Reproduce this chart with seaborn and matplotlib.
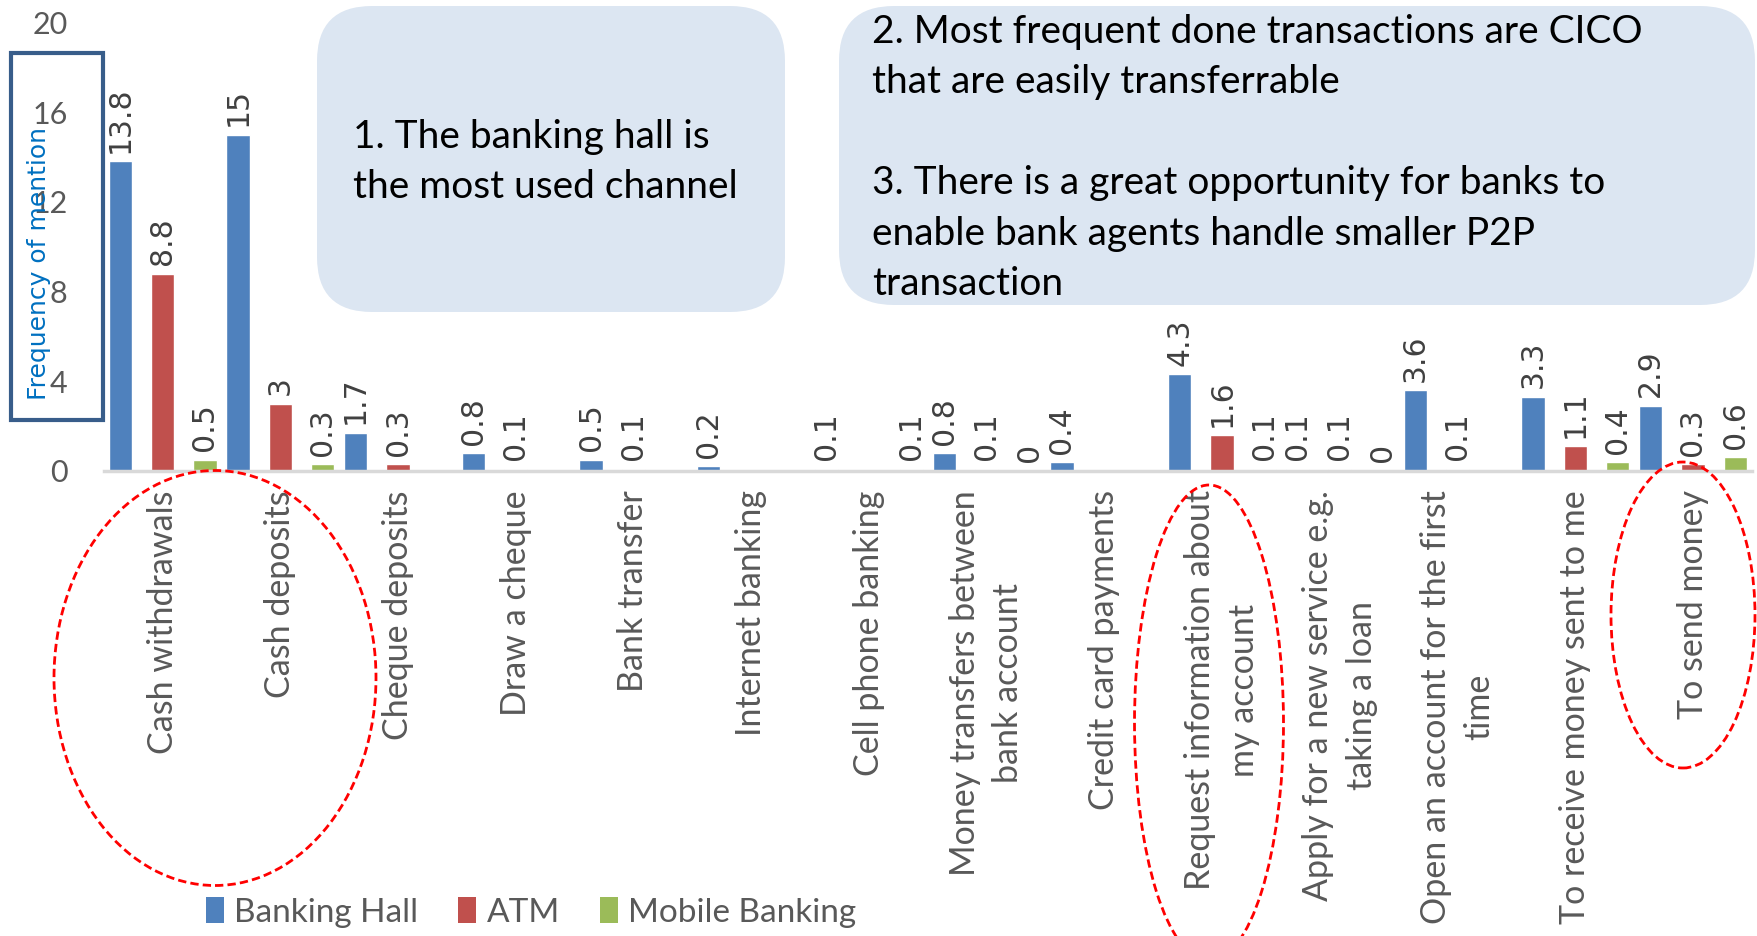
import numpy as np
import pandas as pd
import seaborn as sns
import matplotlib.pyplot as plt
from matplotlib.patches import Ellipse, FancyBboxPatch, Rectangle, Patch

categories = ["Cash withdrawals", "Cash deposits", "Cheque deposits", "Draw a cheque",
              "Bank transfer", "Internet banking", "Cell phone banking",
              "Money transfers between\nbank account", "Credit card payments",
              "Request information about\nmy account",
              "Apply for a new service e.g.\ntaking a loan",
              "Open an account for the first\ntime",
              "To receive money sent to me", "To send money"]
nan = np.nan
banking_hall = [13.8, 15, 1.7, 0.8, 0.5, 0.2, 0.1, 0.8, 0.4, 4.3, 0.1, 3.6, 3.3, 2.9]
atm = [8.8, 3, 0.3, 0.1, 0.1, nan, nan, 0.1, nan, 1.6, 0.1, 0.1, 1.1, 0.3]
mobile_banking = [0.5, 0.3, nan, nan, nan, nan, 0.1, 0, nan, 0.1, 0, nan, 0.4, 0.6]
series = ["Banking Hall", "ATM", "Mobile Banking"]
colors = ["#4F81BD", "#C0504D", "#9BBB59"]
yticks = [0, 4, 8, 12, 16, 20]
note1 = "1. The banking hall is\nthe most used channel"
note2 = ("2. Most frequent done transactions are CICO\nthat are easily transferrable\n\n"
         "3. There is a great opportunity for banks to\nenable bank agents handle smaller P2P\ntransaction")

rows = []
for s, vals in zip(series, [banking_hall, atm, mobile_banking]):
    for c, v in zip(categories, vals):
        rows.append({"category": c, "series": s, "value": v})
df = pd.DataFrame(rows).dropna()

sns.set_style("white")
plt.rcParams['font.family'] = ['Lato', 'DejaVu Sans']

fig = plt.figure(figsize=(17.58, 9.36), dpi=100)
ax = fig.add_axes([0.059, 0.497, 0.9375, 0.479])

sns.barplot(data=df, x="category", y="value", hue="series", order=categories,
            hue_order=series, palette=colors, errorbar=None, width=1.08, gap=0.45,
            saturation=1, ax=ax, legend=False)

for cont in ax.containers:
    ax.bar_label(cont, fmt="{:g}", rotation=90, padding=6, fontsize=21.5,
                 color="#404040", family="DejaVu Sans")

ax.set_xlim(-0.5, 13.5)
ax.set_ylim(0, 20)
ax.set_yticks(yticks)
ax.set_yticklabels([str(t) for t in yticks], fontsize=22, color="#595959")
ax.set_xticks(range(len(categories)))
ax.set_xticklabels(categories, rotation=90, ha="center", va="top",
                   multialignment="center", fontsize=24.5, color="#595959", linespacing=1.45)
ax.tick_params(axis="x", length=0, pad=14)
ax.tick_params(axis="y", length=0, pad=26)
ax.set_xlabel("")
ax.set_ylabel("")
for sp in ["left", "top", "right"]:
    ax.spines[sp].set_visible(False)
ax.spines["bottom"].set_color("#D9D9D9")
ax.spines["bottom"].set_linewidth(2.5)
ax.grid(False)

# y-axis title with box
fig.text(0.022, 0.719, "Frequency of mention", rotation=90, ha="center", va="center",
         fontsize=18, color="#0070C0", family="DejaVu Sans")
fig.patches.append(Rectangle((0.11, 5.16), 0.92, 3.67, transform=fig.dpi_scale_trans,
                             fill=False, edgecolor="#385D8A", linewidth=3))

# callout boxes
fig.patches.append(FancyBboxPatch((3.17, 6.24), 4.68, 3.06,
                                  boxstyle="round,pad=0,rounding_size=0.55",
                                  transform=fig.dpi_scale_trans, facecolor="#DCE6F2",
                                  edgecolor="none", zorder=0.5))
fig.patches.append(FancyBboxPatch((8.39, 6.31), 9.16, 2.99,
                                  boxstyle="round,pad=0,rounding_size=0.55",
                                  transform=fig.dpi_scale_trans, facecolor="#DCE6F2",
                                  edgecolor="none", zorder=0.5))
fig.text(3.53 / 17.58, 7.74 / 9.36, note1, ha="left", va="center", fontsize=28,
         color="black", linespacing=1.5)
fig.text(8.72 / 17.58, 7.78 / 9.36, note2, ha="left", va="center", fontsize=28,
         color="black", linespacing=1.5)

# red dashed ellipses
for (cx, cy, w, h) in [(215, 678, 322, 415), (1209, 723, 149, 476), (1683, 615, 144, 306)]:
    fig.patches.append(Ellipse((cx / 100, (936 - cy) / 100), w / 100, h / 100,
                               transform=fig.dpi_scale_trans, fill=False,
                               edgecolor="#FF0000", linestyle=(0, (3, 1.5)), linewidth=2))

handles = [Patch(facecolor=c, edgecolor="none") for c in colors]
leg = fig.legend(handles, series, loc="center", bbox_to_anchor=(0.302, 0.025), ncol=3,
                 frameon=False, fontsize=24, handlelength=0.55, handleheight=0.8,
                 handletextpad=0.3, columnspacing=1.2)
for t in leg.get_texts():
    t.set_color("#595959")

fig.savefig("out.png", dpi=100)
